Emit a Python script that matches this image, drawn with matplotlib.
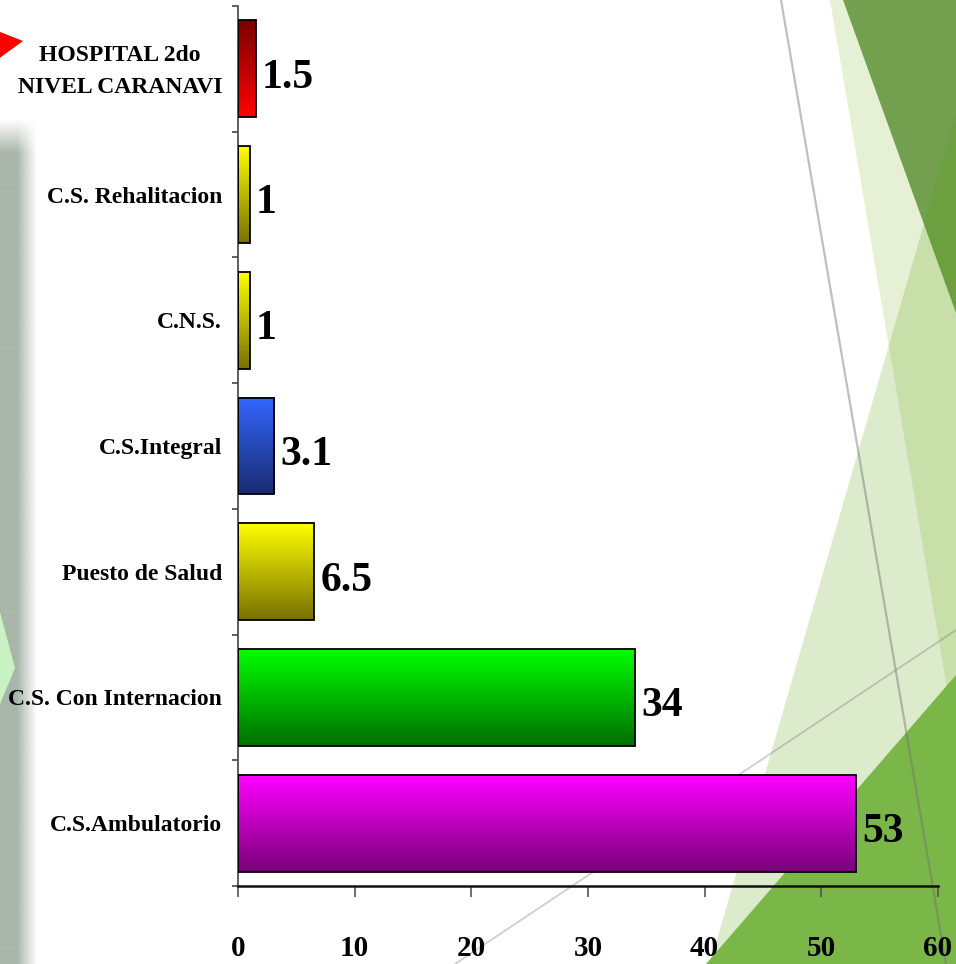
import numpy as np
import matplotlib
matplotlib.use('Agg')
import matplotlib.pyplot as plt
import matplotlib.transforms as mtransforms
from matplotlib.colors import LinearSegmentedColormap, to_rgb
from matplotlib.patches import Polygon

# Data (bottom to top)
categories = ['C.S.Ambulatorio', 'C.S. Con Internacion', 'Puesto de Salud',
              'C.S.Integral', 'C.N.S.', 'C.S. Rehalitacion',
              'HOSPITAL 2do\nNIVEL CARANAVI']
values = [53, 34, 6.5, 3.1, 1, 1, 1.5]
value_labels = ['53', '34', '6.5', '3.1', '1', '1', '1.5']
x_ticks = [0, 10, 20, 30, 40, 50, 60]

# Gradient colours for each bar: (top, bottom)
grad_top = ['#ff00ff', '#00ff00', '#ffff00', '#3366ff', '#ffff00', '#ffff00', '#7a0000']
grad_bottom = ['#780078', '#006e00', '#787000', '#1a2c70', '#787000', '#787000', '#ff0000']

FONT = 'Liberation Serif'
W, H = 956, 964

fig = plt.figure(figsize=(W / 100, H / 100), dpi=100, facecolor='white')

# ---- background decoration (slide theme), pixel coordinates ----
bg = fig.add_axes([0, 0, 1, 1], zorder=0)
bg.axis('off')

bg.add_patch(Polygon([(830, 0), (956, 0), (956, 741)], closed=True,
                     facecolor='#e6f0d5', edgecolor='none'))
bg.add_patch(Polygon([(843, 0), (956, 0), (956, 313)], closed=True,
                     facecolor='#72a04f', edgecolor='none'))
bg.add_patch(Polygon([(956, 113), (710, 964), (956, 964)], closed=True,
                     facecolor=(80 / 255, 155 / 255, 0), alpha=0.2, edgecolor='none'))
bg.add_patch(Polygon([(956, 675), (706, 964), (956, 964)], closed=True,
                     facecolor='#7ab648', edgecolor='none'))
bg.plot([781, 946], [0, 964], color=(0.45, 0.45, 0.45), alpha=0.45, lw=1.6)
bg.plot([455, 956], [964, 630], color=(0.45, 0.45, 0.45), alpha=0.35, lw=1.3)

# left gray-green strip
xs = np.linspace(0, 45, 90)
ys = np.linspace(110, 964, 400)
ax_alpha = np.clip((37 - xs) / 20, 0, 1)
ay_alpha = np.clip((ys - 118) / 34, 0, 1)
strip = np.zeros((len(ys), len(xs), 4))
strip[..., :3] = to_rgb('#a9b6aa')
strip[..., 3] = ay_alpha[:, None] * ax_alpha[None, :]
bg.imshow(strip, extent=[0, 45, 964, 110], origin='upper', aspect='auto',
          interpolation='bilinear')
bg.add_patch(Polygon([(0, 612), (15, 668), (0, 704)], closed=True,
                     facecolor='#c8f2c2', edgecolor='none'))
# red arrow
bg.add_patch(Polygon([(-10, 28), (23, 41), (-10, 65)], closed=True,
                     facecolor='#ff0000', edgecolor='none'))
bg.set_xlim(0, W)
bg.set_ylim(H, 0)

# ---- main chart ----
ax = fig.add_axes([238 / W, 78 / H, 700 / W, 880 / H], zorder=1)
ax.set_facecolor('none')

pos = np.arange(len(categories))
bar_h = 0.77
grad = np.linspace(0, 1, 256).reshape(-1, 1)
for i, v in enumerate(values):
    cmap = LinearSegmentedColormap.from_list('g%d' % i, [grad_bottom[i], grad_top[i]])
    ax.imshow(grad, extent=[0, v, pos[i] - bar_h / 2, pos[i] + bar_h / 2],
              origin='lower', aspect='auto', cmap=cmap, zorder=2)
ax.barh(pos, values, height=bar_h, facecolor='none', edgecolor='black',
        linewidth=1.3, zorder=3)

for i, v in enumerate(values):
    ax.text(v + 0.55, pos[i] - 0.07, value_labels[i], ha='left', va='center',
            fontsize=30, fontweight='bold', family=FONT, zorder=4)

ax.set_xlim(0, 60)
ax.set_ylim(-0.5, len(categories) - 0.5)

# category labels (the two-line one drawn separately, a bit higher)
ax.set_yticks(pos)
ax.set_yticklabels(categories[:-1] + [''], fontsize=17, fontweight='bold', family=FONT)
ax.tick_params(axis='y', which='major', length=0, pad=11.5)
label_tr = mtransforms.blended_transform_factory(ax.transAxes, ax.transData) + \
    mtransforms.ScaledTranslation(-16 / 100, -3 / 100, fig.dpi_scale_trans)
ax.text(0, pos[-1], categories[-1], transform=label_tr, ha='right', va='center',
        multialignment='center', linespacing=1.7,
        fontsize=17, fontweight='bold', family=FONT)
ax.set_yticks(np.arange(-0.5, len(categories), 1), minor=True)
ax.tick_params(axis='y', which='minor', length=4.5, width=1.2, color='#444444')

ax.set_xticks(x_ticks)
ax.set_xticklabels([str(t) for t in x_ticks], fontsize=21, fontweight='bold', family=FONT)
ax.tick_params(axis='x', length=8, width=1.2, color='#555555', pad=27)

ax.spines['top'].set_visible(False)
ax.spines['right'].set_visible(False)
ax.spines['bottom'].set_linewidth(1.8)
ax.spines['bottom'].set_color('#111111')
ax.spines['left'].set_linewidth(1.2)
ax.spines['left'].set_color('#444444')

fig.savefig('out.png', dpi=100, facecolor='white')
plt.close(fig)
